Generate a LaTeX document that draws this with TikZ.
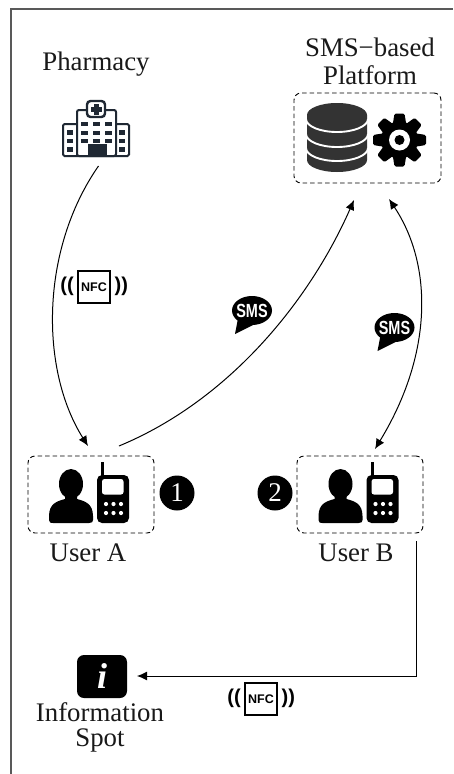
\documentclass[tikz,border=0pt]{standalone}
\usepackage{fontspec}
\setmainfont{Liberation Serif}
\newfontfamily\iconsans{Liberation Sans}
\usetikzlibrary{arrows.meta}
\definecolor{hosp}{HTML}{1F2833}
\definecolor{dbc}{HTML}{333333}
\tikzset{
  every picture/.style={x=1pt,y=-1pt},
  lab/.style={font=\fontsize{26.8}{28}\selectfont,align=center,inner sep=0pt,text=black!90},
  labtight/.style={font=\fontsize{26.8}{25}\selectfont,align=center,inner sep=0pt,text=black!90},
  groupbox/.style={draw=black,line width=0.9pt,dash pattern=on 4.5pt off 3pt,rounded corners=7pt,inner sep=0pt,fill=none},
  conn/.style={line width=1pt,draw=black,-{Latex[length=10pt,width=9pt]}},
  biconn/.style={line width=1pt,draw=black,{Latex[length=10pt,width=9pt]}-{Latex[length=10pt,width=9pt]}},
  numdot/.style={circle,fill=black,text=white,minimum size=35pt,inner sep=0pt,font=\fontsize{27}{27}\selectfont},
  nfcbox/.style={draw=black,line width=2.4pt,fill=white,minimum size=32pt,inner sep=0pt,font=\iconsans\bfseries\fontsize{12.5}{13}\selectfont},
  parenmark/.style={inner sep=0pt,font=\iconsans\bfseries\fontsize{20}{20}\selectfont},
  smstext/.style={inner sep=0pt,text=white,font=\iconsans\bfseries\fontsize{19}{19}\selectfont},
}
\newcommand{\usericon}[1]{%
  \begin{scope}[shift={(#1,0)}]
    \fill[black] (71,484) ellipse [x radius=12,y radius=15];
    \fill[black] (65,494) -- (65,499) .. controls (58,501) and (49,503) .. (49,516) -- (49,520) .. controls (49,523) and (51,523) .. (53,523)
       -- (89,523) .. controls (92,523) and (93,522) .. (93,520) -- (93,516) .. controls (93,503) and (84,501) .. (77,499) -- (77,494) -- cycle;
    \fill[black] (101,461.5) rectangle (104,478);
    \fill[black,rounded corners=5pt] (97,475) rectangle (129,523);
    \fill[white,rounded corners=2.5pt] (102,479) rectangle (123.5,494.5);
    \foreach \dx in {106,113.5,121} \foreach \dy in {504,513} \fill[white] (\dx,\dy) circle [radius=2.1];
  \end{scope}}
\newcommand{\smsbubble}[3]{%
  \fill[black] (#1,#2) ellipse [x radius=20,y radius=14.5];
  \fill[black] (#1-14,#2+8) -- (#1-17,#2+23.5) -- (#1+4,#2+13) -- cycle;
  \node[smstext] (#3) at (#1,#2) {\scalebox{0.76}[1]{SMS}};}
\begin{document}
\begin{tikzpicture}
\useasboundingbox (0,0) rectangle (453,774);
\fill[white] (0,0) rectangle (453,774);
% frame
\draw[draw=black!65,line width=1.1pt] (11,774) -- (11,9) -- (453,9);

% labels
\node[lab] (pharmacyLabel) at (96,64) {Pharmacy};
\node[lab] (platformLabel) at (370,61) {SMS−based\\Platform};
\node[lab] (userAlabel) at (88,553) {User A};
\node[lab] (userBlabel) at (356,553) {User B};
\node[labtight] (spotLabel) at (100,727) {Information\\Spot};

% hospital
\begin{scope}[hosp]
  \draw[line width=2pt,fill=white,rounded corners=1.5pt] (63,124) rectangle (129,156);
  \draw[line width=2pt,fill=white,rounded corners=2pt] (77,110) rectangle (116,156);
  \draw[line width=2.4pt,fill=white,rounded corners=3.5pt] (87,101) rectangle (105,117);
  \fill[hosp] (93.5,104) rectangle (98.5,114.5);
  \fill[hosp] (90.5,106.8) rectangle (101.5,111.7);
  \foreach \yy in {122,130.5,139} \foreach \xx in {81,93,104.5} \fill (\xx,\yy) rectangle (\xx+7,\yy+4.2);
  \foreach \yy in {130,138.5,147} { \fill (67,\yy) rectangle (72.5,\yy+4.5); \fill (119,\yy) rectangle (124.5,\yy+4.5); }
  \fill (88,144) rectangle (107,156);
\end{scope}
\node[inner sep=0pt,minimum width=68pt,minimum height=57pt] (pharmacyIcon) at (96,128.5) {};

% platform
\node[groupbox,minimum width=147pt,minimum height=90pt] (platform) at (367.5,138) {};
\fill[dbc] (307,115) arc [start angle=180,end angle=360,x radius=30,y radius=12] -- (367,160) arc [start angle=0,end angle=180,x radius=30,y radius=12] -- cycle;
\foreach \yy in {119,134,148}
  \draw[white,line width=1.9pt] (306,\yy) arc [start angle=180,end angle=0,x radius=31,y radius=13];
% gear
\foreach \ang in {0,45,...,315}
  \fill[black,rounded corners=1.5pt,rotate around={\ang:(399.5,140)}] (394.5,113.5) -- (404.5,113.5) -- (406.5,126) -- (392.5,126) -- cycle;
\fill[black] (399.5,140) circle [radius=18.5];
\fill[white] (399.5,140) circle [radius=10.5];
\fill[black] (399.5,140) circle [radius=5];

% users
\node[groupbox,minimum width=126pt,minimum height=77pt] (userA) at (91,494.5) {};
\node[groupbox,minimum width=126pt,minimum height=77pt] (userB) at (360,494.5) {};
\usericon{0}
\usericon{269.5}
\node[numdot] (one) at (177,493) {1};
\node[numdot] (two) at (275,493) {2};

% info spot
\node[fill=black,rounded corners=7pt,minimum width=50pt,minimum height=43pt,inner sep=0pt,text=white,font=\fontsize{36}{36}\selectfont\bfseries\itshape] (info) at (102,676.5) {i};

% NFC icons
\node[nfcbox] (nfcA) at (94,287) {NFC};
\node[parenmark,anchor=east] (nfcAl) at (74,286.5) {((};
\node[parenmark,anchor=west] (nfcAr) at (114.5,286.5) {))};
\node[nfcbox] (nfcB) at (261,699) {NFC};
\node[parenmark,anchor=east] (nfcBl) at (241,698.5) {((};
\node[parenmark,anchor=west] (nfcBr) at (281.5,698.5) {))};

% SMS bubbles
\smsbubble{252}{310.5}{smsA}
\smsbubble{394.5}{327.5}{smsB}

% connector ends
\coordinate (pOut) at (98.5,166);
\coordinate (aIn) at (88,446);
\coordinate (aOut) at (119,446);
\coordinate (platInA) at (354,200);
\coordinate (platInB) at (389,199);
\coordinate (bIn) at (375,449);
\coordinate (bOut) at (416.5,541);
\coordinate (bCorner) at (416.5,676);
\coordinate (infoIn) at (137,676);

\draw[conn] (pOut) .. controls (40,250) and (40,370) .. (aIn);
\draw[conn] (aOut) .. controls (230,400) and (310,300) .. (platInA);
\draw[biconn] (platInB) .. controls (433,265) and (433,354) .. (bIn);
\draw[conn] (bOut) -- (bCorner) -- (infoIn);
\end{tikzpicture}
\end{document}
